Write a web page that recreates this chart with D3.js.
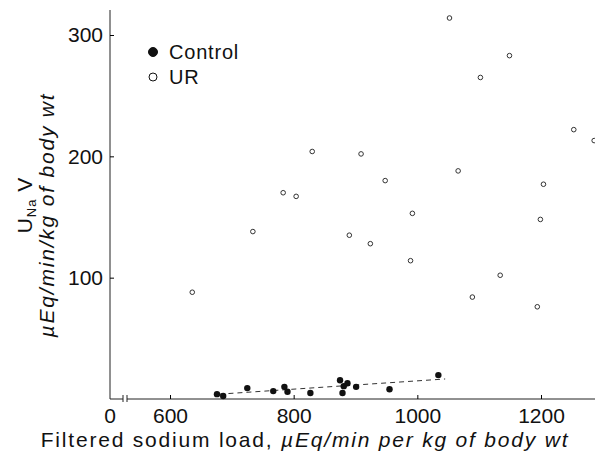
<!DOCTYPE html>
<html>
<head>
<meta charset="utf-8">
<script src="https://cdn.jsdelivr.net/npm/d3@7"></script>
<style>
  body { margin: 0; background: #fff; }
  svg { font-family: "Liberation Sans", Arial, sans-serif; }
</style>
</head>
<body>
<div id="root"></div>
<script>
// UR rats (open circles)
const urLoad = [1052, 1149, 1102, 1253, 1286, 830, 909, 1066, 948, 1204, 783, 804, 992, 1199, 734, 890, 924, 989, 1134, 636, 1089, 1194]
const urExcr = [314, 283, 265, 222, 213, 204, 202, 188, 180, 177, 170, 167, 153, 148, 138, 135, 128, 114, 102, 88, 84, 76]

// Control rats (filled)
const ctrlLoad = [676, 686, 725, 767, 785, 790, 827, 875, 879, 881, 887, 901, 955, 1034]
const ctrlExcr = [4, 2.5, 9, 6.5, 10, 6, 5, 15.5, 5, 10.6, 13, 10, 8, 19.7]

// dashed regression for controls
const fitLoad = [680, 1045]
const fitExcr = [4, 16.5]

const xTicks = [600, 800, 1000, 1200]
const yTicks = [100, 200, 300]
const legendItems = ['Control', 'UR']

const width = 595
const height = 457
const x0 = 110   // origin of the broken x axis
const yBase = 399

const svg = d3.select('#root').append('svg')
    .attr('width', width).attr('height', height)

const x = d3.scaleLinear().domain([600, 1200]).range([170, 541])
const y = d3.scaleLinear().domain([0, 300]).range([yBase, 35])

// y axis
svg.append('line')
    .attr('x1', x0).attr('x2', x0)
    .attr('y1', yBase).attr('y2', 10)
    .attr('stroke', '#222').attr('stroke-width', 1)

const yAxis = svg.append('g')
    .attr('transform', `translate(${x0},0)`)
    .call(d3.axisLeft(y).tickValues(yTicks).tickSize(-4).tickPadding(7).tickFormat(d3.format('d')))
yAxis.select('.domain').remove()
yAxis.selectAll('text').attr('font-size', 21).attr('fill', '#111')

// x axis
svg.append('line')
    .attr('x1', x0).attr('x2', width)
    .attr('y1', yBase).attr('y2', yBase)
    .attr('stroke', '#222').attr('stroke-width', 1)

const xAxis = svg.append('g')
    .attr('transform', `translate(0,${yBase})`)
    .call(d3.axisBottom(x).tickValues(xTicks).tickSize(-4).tickPadding(9).tickFormat(d3.format('d')))
xAxis.select('.domain').remove()
xAxis.selectAll('text').attr('font-size', 21).attr('fill', '#111')

// "0" at the origin and the break marks
svg.append('text')
    .attr('x', x0).attr('y', yBase + 24)
    .attr('text-anchor', 'middle').attr('font-size', 21).attr('fill', '#111')
    .text('0')
svg.append('rect')
    .attr('x', 123).attr('y', yBase - 2).attr('width', 4).attr('height', 4)
    .attr('fill', '#fff')
;[123, 127].forEach(bx => {
    svg.append('line')
        .attr('x1', bx).attr('x2', bx)
        .attr('y1', yBase - 4).attr('y2', yBase + 3)
        .attr('stroke', '#222').attr('stroke-width', 1)
})

// regression line
svg.append('line')
    .attr('x1', x(fitLoad[0])).attr('y1', y(fitExcr[0]))
    .attr('x2', x(fitLoad[1])).attr('y2', y(fitExcr[1]))
    .attr('stroke', '#333').attr('stroke-width', 1)
    .attr('stroke-dasharray', '5,4')

// points
const ur = urLoad.map((v, i) => ({ load: v, excr: urExcr[i] }))
const ctrl = ctrlLoad.map((v, i) => ({ load: v, excr: ctrlExcr[i] }))

svg.selectAll('.ur').data(ur)
    .enter().append('circle')
    .attr('class', 'ur')
    .attr('cx', d => x(d.load)).attr('cy', d => y(d.excr))
    .attr('r', 2.3)
    .attr('fill', '#fff').attr('stroke', '#333').attr('stroke-width', 1)

svg.selectAll('.ctrl').data(ctrl)
    .enter().append('circle')
    .attr('class', 'ctrl')
    .attr('cx', d => x(d.load)).attr('cy', d => y(d.excr))
    .attr('r', 3.2)
    .attr('fill', '#111')

// legend
const legend = svg.append('g')
legendItems.forEach((name, i) => {
    const ly = 52 + i * 25
    legend.append('circle')
        .attr('cx', 153).attr('cy', ly)
        .attr('r', i === 0 ? 4.5 : 4)
        .attr('fill', i === 0 ? '#111' : '#fff')
        .attr('stroke', '#111').attr('stroke-width', 1)
    legend.append('text')
        .attr('x', 169).attr('y', ly + 7)
        .attr('font-size', 20).attr('letter-spacing', 0.8).attr('fill', '#111')
        .text(name)
})

// axis titles
svg.append('text')
    .attr('x', 305).attr('y', 447)
    .attr('text-anchor', 'middle').attr('font-size', 21).attr('letter-spacing', 1.8)
    .attr('fill', '#111')
    .text('Filtered sodium load, ')
    .append('tspan').attr('font-style', 'italic').text('\u00b5Eq/min per kg of body wt')

const yTitle = svg.append('g').attr('transform', 'translate(0,215) rotate(-90)')
const t1 = yTitle.append('text')
    .attr('x', 10).attr('y', 32)
    .attr('text-anchor', 'middle').attr('font-size', 21).attr('letter-spacing', 1)
    .attr('fill', '#111')
t1.append('tspan').text('U')
t1.append('tspan').attr('font-size', 13).attr('dy', 4).text('Na')
t1.append('tspan').attr('dy', -4).text(' V')
yTitle.append('text')
    .attr('x', 0).attr('y', 54)
    .attr('text-anchor', 'middle').attr('font-size', 21).attr('letter-spacing', 1.8)
    .attr('font-style', 'italic').attr('fill', '#111')
    .text('\u00b5Eq/min/kg of body wt')
</script>
</body>
</html>
